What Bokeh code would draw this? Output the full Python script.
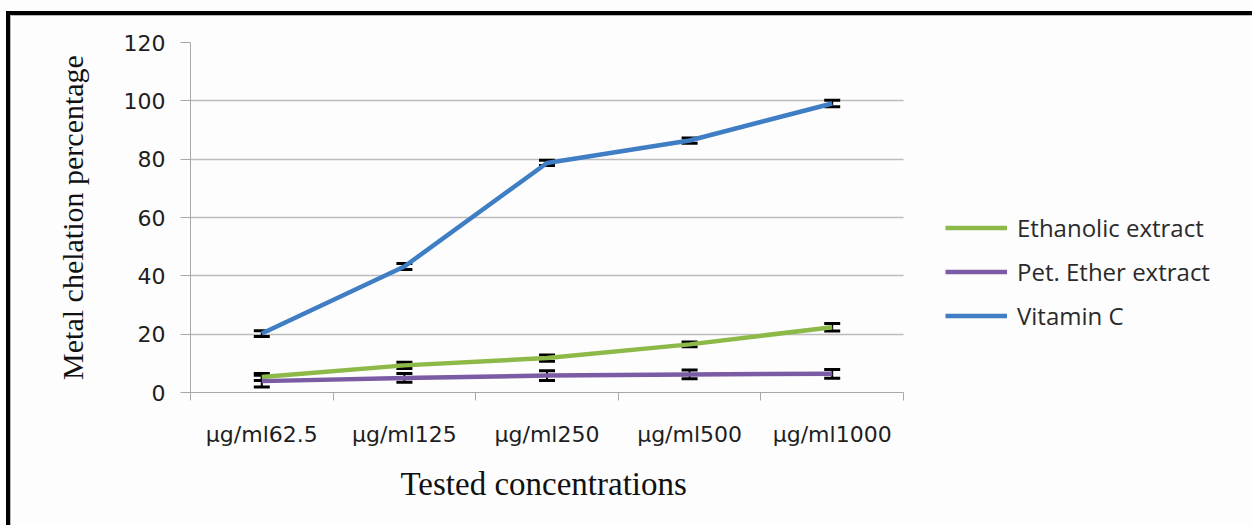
from bokeh.plotting import figure
from bokeh.models import (Range1d, FixedTicker, Whisker, TeeHead, ColumnDataSource,
                          Legend, LegendItem, InlineStyleSheet, Title)
from bokeh.embed import file_html
from bokeh.resources import INLINE

categories = ["µg/ml62.5", "µg/ml125", "µg/ml250", "µg/ml500", "µg/ml1000"]
ethanolic = [5.3, 9.3, 11.8, 16.5, 22.4]
ethanolic_err = [1.2, 1.1, 1.1, 0.85, 1.3]
pet_ether = [3.9, 5.0, 5.8, 6.2, 6.4]
pet_ether_err = [2.0, 1.5, 1.7, 1.5, 1.5]
vitamin_c = [20.2, 43.2, 78.7, 86.4, 99.1]
vitamin_c_err = [1.0, 1.0, 0.9, 0.9, 1.1]
series_names = ["Ethanolic extract", "Pet. Ether extract", "Vitamin C"]
series_colors = ["#8cb947", "#7b5ba4", "#3f7dc4"]
y_ticks = [0, 20, 40, 60, 80, 100, 120]
x_title = "Tested concentrations"
y_title = "Metal chelation percentage"

n = len(categories)
xpos = [i + 0.5 for i in range(n)]
bounds = [float(i) for i in range(n + 1)]

# layout (pixels): plot area of the categories spans 713 px, the frame is
# widened to the right so that the legend can sit inside it
W, H = 1252, 525
LEFT, TOP, BOTTOM = 190, 42, 133
CAT_W = 713
frame_w = W - LEFT
x_end = n * frame_w / CAT_W

p = figure(width=W, height=H, output_backend="svg", toolbar_location=None,
           x_range=Range1d(0, x_end), y_range=Range1d(0, 120),
           min_border_left=LEFT, min_border_right=0, min_border_top=TOP,
           min_border_bottom=BOTTOM)
p.background_fill_color = "#fdfdfd"
p.border_fill_color = "#fdfdfd"
p.outline_line_color = None

# page border of the original figure (pure decoration)
p.stylesheets = [InlineStyleSheet(css="""
:host::after {
  content: '';
  position: absolute;
  left: 6px; top: 11px; width: 1246px; height: 514px;
  border-top: 4px solid #000; border-left: 4px solid #000;
  box-sizing: border-box;
  box-shadow: inset 1px 1px 0 #b8b8b8;
  pointer-events: none;
  z-index: 10;
}
""")]

# y axis
p.yaxis.ticker = FixedTicker(ticks=y_ticks)
p.ygrid.ticker = FixedTicker(ticks=y_ticks)
p.ygrid.cross_bounds = (0, n)
p.ygrid.grid_line_color = "#bdbdbd"
p.ygrid.grid_line_width = 1.5
p.xgrid.grid_line_color = None
p.yaxis.axis_line_color = "#a8a8a8"
p.yaxis.major_tick_line_color = "#a8a8a8"
p.yaxis.major_tick_out = 10
p.yaxis.major_tick_in = 0
p.yaxis.minor_tick_line_color = None
p.yaxis.major_label_standoff = 15
p.yaxis.major_label_text_font = "DejaVu Sans"
p.yaxis.major_label_text_font_size = "22px"
p.yaxis.major_label_text_color = "#1e1e1e"
p.yaxis.axis_label = y_title
p.yaxis.axis_label_text_font = "Liberation Serif"
p.yaxis.axis_label_text_font_style = "normal"
p.yaxis.axis_label_text_font_size = "30px"
p.yaxis.axis_label_text_color = "#111111"
p.yaxis.axis_label_standoff = 32

# x axis
p.xaxis.bounds = (0, n)
p.xaxis.ticker = FixedTicker(ticks=xpos, minor_ticks=bounds)
p.xaxis.major_label_overrides = {x: c for x, c in zip(xpos, categories)}
p.xaxis.axis_line_color = "#a8a8a8"
p.xaxis.major_tick_out = 0
p.xaxis.major_tick_in = 0
p.xaxis.minor_tick_out = 8
p.xaxis.minor_tick_in = 0
p.xaxis.minor_tick_line_color = "#a8a8a8"
p.xaxis.major_label_standoff = 21
p.xaxis.major_label_text_font = "DejaVu Sans"
p.xaxis.major_label_text_font_size = "22px"
p.xaxis.major_label_text_color = "#1e1e1e"

# x axis title centred under the category area (not under the widened frame)
xt = Title(text=x_title, align="left", offset=210, vertical_align="top",
           standoff=32, text_font="Liberation Serif", text_font_size="33px",
           text_font_style="normal", text_color="#111111")
p.add_layout(xt, "below")

items = []
all_vals = [ethanolic, pet_ether, vitamin_c]
all_errs = [ethanolic_err, pet_ether_err, vitamin_c_err]
for name, color, vals in zip(series_names, series_colors, all_vals):
    r = p.line(xpos, vals, line_color=color, line_width=4.5)
    items.append(LegendItem(label=name, renderers=[r]))

for vals, errs in zip(all_vals, all_errs):
    src = ColumnDataSource(dict(base=xpos,
                                upper=[v + e for v, e in zip(vals, errs)],
                                lower=[v - e for v, e in zip(vals, errs)]))
    w = Whisker(source=src, base="base", upper="upper", lower="lower",
                dimension="height", line_color="black", line_width=2,
                upper_head=TeeHead(size=16, line_width=3, line_color="black"),
                lower_head=TeeHead(size=16, line_width=3, line_color="black"))
    p.add_layout(w)

legend = Legend(items=items, location=(755, 60))
legend.border_line_color = None
legend.background_fill_alpha = 0
legend.padding = 0
legend.margin = 0
legend.spacing = 11
legend.glyph_width = 62
legend.glyph_height = 33
legend.label_height = 33
legend.label_standoff = 10
legend.label_text_font = "Open Sans"
legend.label_text_font_size = "24px"
legend.label_text_color = "#2a2a2a"
p.add_layout(legend)

open("out.html", "w").write(file_html(p, INLINE))
